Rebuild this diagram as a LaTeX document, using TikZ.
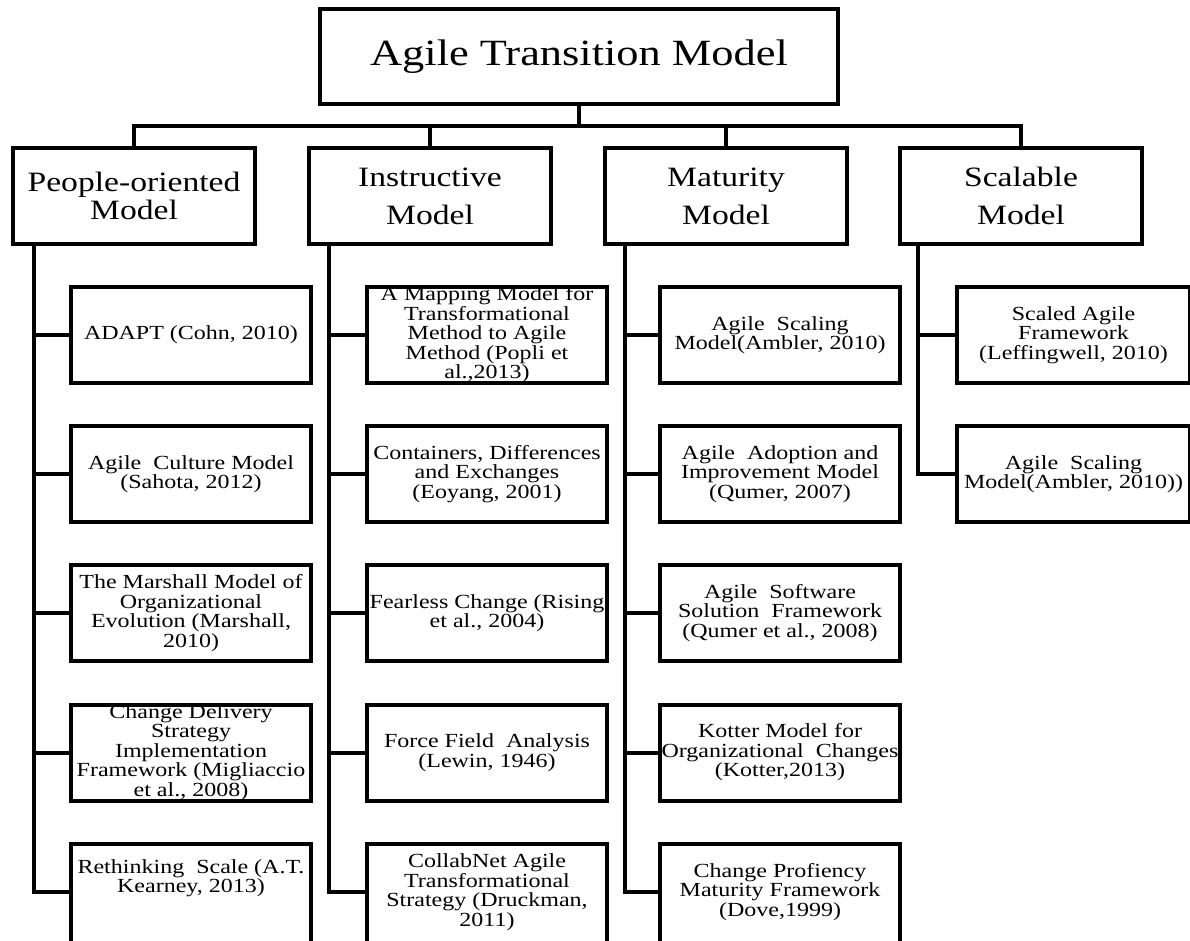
\documentclass[tikz,border=0pt]{standalone}
\usepackage{fontspec}
\setmainfont{Liberation Serif}[FakeStretch=1.2]
\usetikzlibrary{calc}
\tikzset{
  link/.style={line width=4pt},
  frame/.style={draw, line width=4pt, rectangle, inner sep=0pt},
  titlebox/.style={frame, minimum width=518pt, minimum height=95pt},
  topbox/.style={frame, minimum width=242pt, minimum height=96pt},
  subbox/.style={frame, minimum width=240pt, minimum height=96pt},
  lastbox/.style={frame, minimum width=240pt, minimum height=110pt},
  sidebox/.style={frame, minimum width=233pt, minimum height=96pt},
  titletext/.style={inner sep=0pt, font=\fontsize{37}{40}\selectfont},
  toptext/.style={inner sep=0pt, align=center, font=\fontsize{28}{27.5}\selectfont},
  toptextwide/.style={inner sep=0pt, align=center, font=\fontsize{28}{38}\selectfont},
  subtext/.style={inner sep=0pt, align=center, font=\fontsize{20}{19.5}\selectfont}
}
\begin{document}
\begin{tikzpicture}[x=1pt,y=-1pt]
\useasboundingbox (0,0) rectangle (1190,941);
\clip (0,0) rectangle (1190,941);

% title
\node[titlebox] (T) at (579,56.5) {};
\node[titletext] (Tt) at (T.center) {Agile Transition Model};

% level 1
\node[topbox] (P) at (134,196) {};
\node[topbox] (I) at (430,196) {};
\node[topbox] (M) at (726,196) {};
\node[topbox] (S) at (1021,196) {};
\node[toptext] (Pt) at (P.center) {People-oriented\\Model};
\node[toptextwide] (It) at (I.center) {Instructive\\Model};
\node[toptextwide] (Mt) at (M.center) {Maturity\\Model};
\node[toptextwide] (St) at (S.center) {Scalable\\Model};

% level 2 boxes
\foreach \r/\y in {1/335,2/474,3/613,4/752.5}{
  \node[subbox] (p\r) at (191,\y) {};
  \node[subbox] (i\r) at (487,\y) {};
  \node[subbox] (m\r) at (780,\y) {};
}
\node[lastbox] (p5) at (191,899) {};
\node[lastbox] (i5) at (487,899) {};
\node[lastbox] (m5) at (780,899) {};
\node[sidebox] (s1) at (1073.5,335) {};
\node[sidebox] (s2) at (1073.5,474) {};

% level 2 texts
\node[subtext] (p1t) at (p1.center) {ADAPT (Cohn, 2010)};
\node[subtext] (p2t) at (p2.center) {Agile\ \ Culture Model\\(Sahota, 2012)};
\node[subtext] (p3t) at (p3.center) {The Marshall Model of\\Organizational\\Evolution (Marshall,\\2010)};
\node[subtext] (p4t) at (p4.center) {Change Delivery\\Strategy\\Implementation\\Framework (Migliaccio\\et al., 2008)};
\node[subtext] (p5t) at (191,878) {Rethinking\ \ Scale (A.T.\\Kearney, 2013)};

\node[subtext] (i1t) at (i1.center) {A Mapping Model for\\Transformational\\Method to Agile\\Method (Popli et\\al.,2013)};
\node[subtext] (i2t) at (i2.center) {Containers, Differences\\and Exchanges\\(Eoyang, 2001)};
\node[subtext] (i3t) at (i3.center) {Fearless Change (Rising\\et al., 2004)};
\node[subtext] (i4t) at (i4.center) {Force Field\ \ Analysis\\(Lewin, 1946)};
\node[subtext] (i5t) at (487,892) {CollabNet Agile\\Transformational\\Strategy (Druckman,\\2011)};

\node[subtext] (m1t) at (m1.center) {Agile\ \ Scaling\\Model(Ambler, 2010)};
\node[subtext] (m2t) at (m2.center) {Agile\ \ Adoption and\\Improvement Model\\(Qumer, 2007)};
\node[subtext] (m3t) at (m3.center) {Agile\ \ Software\\Solution\ \ Framework\\(Qumer et al., 2008)};
\node[subtext] (m4t) at (m4.center) {Kotter Model for\\Organizational\ \ Changes\\(Kotter,2013)};
\node[subtext] (m5t) at (780,892) {Change Profiency\\Maturity Framework\\(Dove,1999)};

\node[subtext] (s1t) at (s1.center) {Scaled Agile\\Framework\\(Leffingwell, 2010)};
\node[subtext] (s2t) at (s2.center) {Agile\ \ Scaling\\Model(Ambler, 2010))};

% top connectors
\coordinate (bus) at (579,126);
\draw[link] (T.south) -- (bus);
\draw[link] (P.north) |- (bus) -| (S.north);
\draw[link] (I.north) -- (I.north |- bus);
\draw[link] (M.north) -- (M.north |- bus);

% column spines
\coordinate (cP) at ($(P.south west)+(23,0)$);
\coordinate (cI) at ($(I.south west)+(22,0)$);
\coordinate (cM) at ($(M.south west)+(22,0)$);
\coordinate (cS) at ($(S.south west)+(20,0)$);
\draw[link] (cP) |- ($(p5.west)+(0,-7)$);
\draw[link] (cI) |- ($(i5.west)+(0,-7)$);
\draw[link] (cM) |- ($(m5.west)+(0,-7)$);
\draw[link] (cS) |- (s2.west);
\foreach \r in {1,2,3,4}{
  \draw[link] (p\r.west) -- (p\r.west -| cP);
  \draw[link] (i\r.west) -- (i\r.west -| cI);
  \draw[link] (m\r.west) -- (m\r.west -| cM);
}
\draw[link] (s1.west) -- (s1.west -| cS);
\end{tikzpicture}
\end{document}
